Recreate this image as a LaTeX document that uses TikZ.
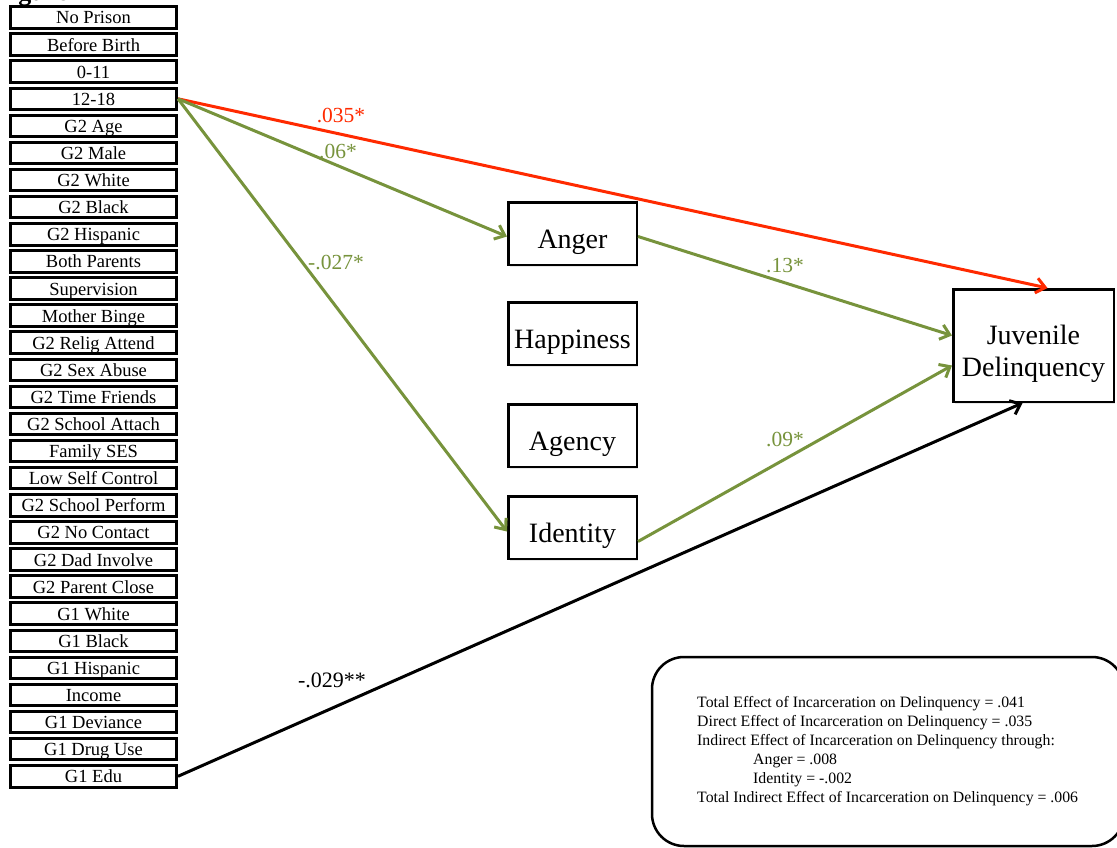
\documentclass[tikz,border=0pt]{standalone}
\usepackage{fontspec}
\setmainfont{Liberation Serif}
\usetikzlibrary{arrows.meta,shadows}

\definecolor{pathgreen}{HTML}{77933C}
\definecolor{pathred}{HTML}{FF2A00}

\begin{document}
\begin{tikzpicture}[x=1pt,y=-1pt,
  var/.style={draw=black, line width=3pt, fill=white, minimum width=166pt,
    minimum height=21.5pt, inner sep=0pt, text height=13pt, text depth=0pt,
    font=\fontsize{18.5}{20}\selectfont},
  med/.style={draw=black, line width=2.5pt, fill=white, minimum width=128.5pt,
    minimum height=62.5pt, inner sep=0pt, text height=29pt, text depth=0pt,
    font=\fontsize{28}{33}\selectfont,
    drop shadow={opacity=0.18, shadow xshift=1.5pt, shadow yshift=-2pt}},
  outc/.style={draw=black, line width=2.5pt, fill=white, minimum width=160.5pt,
    minimum height=112.5pt, inner sep=0pt,
    drop shadow={opacity=0.18, shadow xshift=1.5pt, shadow yshift=-2pt}},
  outctext/.style={inner sep=0pt, align=center, font=\fontsize{28}{32}\selectfont},
  path/.style={line width=3pt, -{Straight Barb[length=9pt,width=15pt]}},
  lab/.style={inner sep=0pt, font=\fontsize{21.5}{24}\selectfont}
]
\useasboundingbox (0,0) rectangle (1117,848);
\clip (0,0) rectangle (1117,848);

% caption running above the frame
\node[anchor=base west, inner sep=0pt, font=\fontsize{26}{26}\selectfont\bfseries] (cap) at (-5,0.5) {Figure};

% predictors
\foreach \t [count=\i] in {No Prison, Before Birth, 0-11, 12-18, G2 Age, G2 Male,
  G2 White, G2 Black, G2 Hispanic, Both Parents, Supervision, Mother Binge,
  G2 Relig Attend, G2 Sex Abuse, G2 Time Friends, G2 School Attach, Family SES,
  Low Self Control, G2 School Perform, G2 No Contact, G2 Dad Involve,
  G2 Parent Close, G1 White, G1 Black, G1 Hispanic, Income, G1 Deviance,
  G1 Drug Use, G1 Edu}
  \node[var] (v\i) at (93.5, {17.5+27.1*(\i-1)}) {\t};

% mediators
\node[med] (anger) at (572.5,233.5) {Anger};
\node[med] (happy) at (572.5,333.5) {Happiness};
\node[med] (agency) at (572.5,435.5) {Agency};
\node[med] (ident) at (572.5,527.5) {Identity};

% outcome
\node[outc] (jd) at (1033.5,345.5) {};
\node[outctext] (jdtext) at ([yshift=-8pt]jd.center) {Juvenile\\Delinquency};

% paths
\draw[path, pathred] (v4.east) -- ([xshift=14pt]jd.north);
\draw[path, pathgreen] (v4.east) -- ([yshift=-3pt]anger.west);
\draw[path, pathgreen] (v4.east) -- ([yshift=-4pt]ident.west);
\draw[path, pathgreen] ([yshift=-3pt]anger.east) -- ([yshift=10pt]jd.west);
\draw[path, pathgreen] ([yshift=-14pt]ident.east) -- ([yshift=-20pt]jd.west);
\draw[path, black] (v29.east) -- ([xshift=-11pt]jd.south);

% coefficients
\node[lab, text=pathred] (l1) at (341,116) {.035*};
\node[lab, text=pathgreen] (l2) at (338,152) {.06*};
\node[lab, text=pathgreen] (l3) at (336,263) {-.027*};
\node[lab, text=pathgreen] (l4) at (785,266) {.13*};
\node[lab, text=pathgreen] (l5) at (785,440) {.09*};
\node[lab, font=\fontsize{22}{24}\selectfont] (l6) at (332,680) {-.029**};

% summary of effects
\draw[line width=2.5pt, rounded corners=32pt, fill=white] (652,657) rectangle (1124,846);
\node[anchor=north west, align=left, inner sep=0pt,
  font=\fontsize{15.8}{19}\selectfont] (sum) at (697,696)
  {Total Effect of Incarceration on Delinquency = .041\\
   Direct Effect of Incarceration on Delinquency = .035\\
   Indirect Effect of Incarceration on Delinquency through:\\
   \hspace*{56pt}Anger = .008\\
   \hspace*{56pt}Identity = -.002\\
   Total Indirect Effect of Incarceration on Delinquency = .006};
\end{tikzpicture}
\end{document}
